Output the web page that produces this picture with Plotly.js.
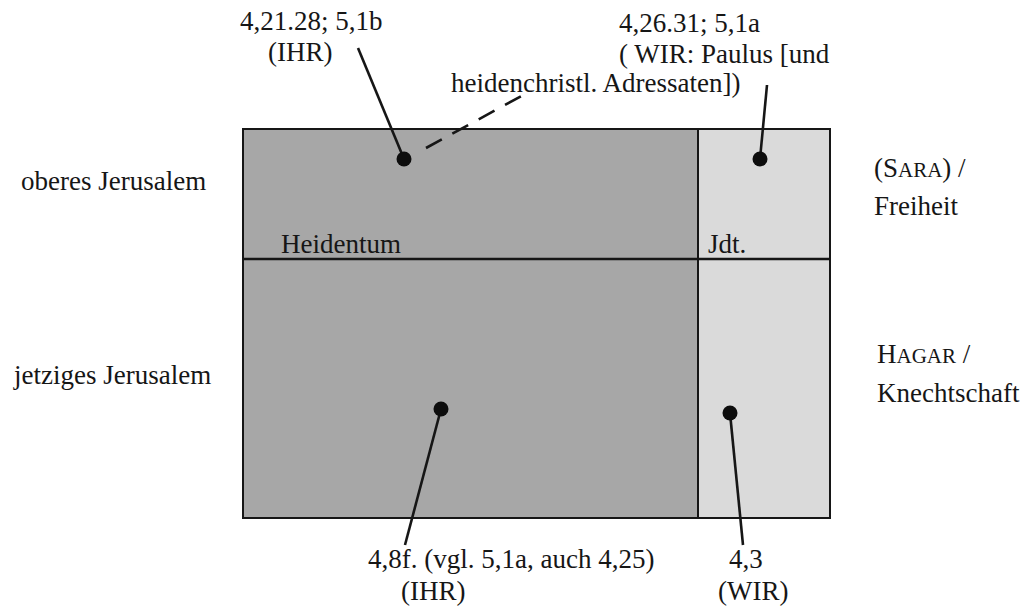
<!DOCTYPE html>
<html>
<head>
<meta charset="utf-8">
<script src="https://cdn.plot.ly/plotly-3.0.1.min.js"></script>
<style>html,body{margin:0;padding:0;background:#fff;}#chart{width:1023px;height:610px;}</style>
</head>
<body>
<div id="chart"></div>
<script>
// ---- content ----
const rowLabels = ["oberes Jerusalem", "jetziges Jerusalem"];
const colLabels = ["Heidentum", "Jdt."];
const sideLabelsTop = ["(S<span style='font-size:21px'>ARA</span>) /", "Freiheit"];
const sideLabelsBottom = ["H<span style='font-size:21px'>AGAR</span> /", "Knechtschaft"];
const refTopLeft = ["4,21.28; 5,1b", "(IHR)"];
const refTopRight = ["4,26.31; 5,1a", "( WIR: Paulus [und", "heidenchristl. Adressaten])"];
const refBottomLeft = ["4,8f. (vgl. 5,1a, auch 4,25)", "(IHR)"];
const refBottomRight = ["4,3", "(WIR)"];
const cellColors = ["#a7a7a7", "#dadada"];

// ---- layout geometry (pixel space) ----
const G = {
  x0: 243, xDiv: 698, x1: 830,
  y0: 129, yDiv: 259, y1: 518,
  dots: {x: [404, 760, 441, 730], y: [159, 159, 409, 413]},
  leaders: [
    {x: [404, 358], y: [159, 48]},
    {x: [760, 767], y: [159, 85]},
    {x: [441, 405], y: [409, 545]},
    {x: [730, 743], y: [413, 545]}
  ],
  dashed: {x: [426, 527], y: [148, 93]}
};

const FS = 27;
const FONT = "\"Liberation Serif\", \"Times New Roman\", serif";
const ink = "#161616";

const traces = [];
G.leaders.forEach(l => traces.push({x: l.x, y: l.y, mode: "lines", line: {color: ink, width: 2.6}, hoverinfo: "skip"}));
traces.push({x: G.dashed.x, y: G.dashed.y, mode: "lines", line: {color: ink, width: 2.6, dash: "18px,12px"}, hoverinfo: "skip"});
traces.push({x: G.dots.x, y: G.dots.y, mode: "markers", marker: {size: 15, color: "#0d0d0d"}, hoverinfo: "skip"});

const shapes = [
  {type: "rect", xref: "x", yref: "y", x0: G.x0, x1: G.xDiv, y0: G.y0, y1: G.y1, fillcolor: cellColors[0], line: {width: 0}, layer: "below"},
  {type: "rect", xref: "x", yref: "y", x0: G.xDiv, x1: G.x1, y0: G.y0, y1: G.y1, fillcolor: cellColors[1], line: {width: 0}, layer: "below"},
  {type: "rect", xref: "x", yref: "y", x0: G.x0, x1: G.x1, y0: G.y0, y1: G.y1, line: {color: ink, width: 2}, layer: "below"},
  {type: "line", xref: "x", yref: "y", x0: G.xDiv, x1: G.xDiv, y0: G.y0, y1: G.y1, line: {color: ink, width: 2}, layer: "below"},
  {type: "line", xref: "x", yref: "y", x0: G.x0, x1: G.x1, y0: G.yDiv, y1: G.yDiv, line: {color: ink, width: 2.4}, layer: "below"}
];

const BL = 9; // baseline -> middle offset
function ann(text, x, baseline, anchor) {
  return {text: text, x: x, y: baseline - BL, xref: "x", yref: "y", xanchor: anchor || "left", yanchor: "middle",
          showarrow: false, borderpad: 0, font: {family: FONT, size: FS, color: ink}};
}
const annotations = [
  ann(rowLabels[0], 20, 190),
  ann(rowLabels[1], 12, 384),
  ann(colLabels[0], 280, 253),
  ann(colLabels[1], 707, 253),
  ann(sideLabelsTop[0], 873, 177),
  ann(sideLabelsTop[1], 873, 215),
  ann(sideLabelsBottom[0], 876, 363),
  ann(sideLabelsBottom[1], 876, 402),
  ann(refTopLeft[0], 239, 30),
  ann(refTopLeft[1], 267, 61),
  ann(refTopRight[0], 618, 32),
  ann(refTopRight[1], 618, 63),
  ann(refTopRight[2], 450, 92),
  ann(refBottomLeft[0], 367, 568),
  ann(refBottomLeft[1], 400, 600),
  ann(refBottomRight[0], 728, 568),
  ann(refBottomRight[1], 717, 600)
];

const layout = {
  width: 1023, height: 610,
  margin: {l: 0, r: 0, t: 0, b: 0},
  paper_bgcolor: "#ffffff", plot_bgcolor: "#ffffff",
  showlegend: false,
  xaxis: {range: [0, 1023], visible: false, fixedrange: true},
  yaxis: {range: [610, 0], visible: false, fixedrange: true},
  shapes: shapes,
  annotations: annotations
};
Plotly.newPlot("chart", traces, layout, {staticPlot: true, displayModeBar: false});
</script>
</body>
</html>
